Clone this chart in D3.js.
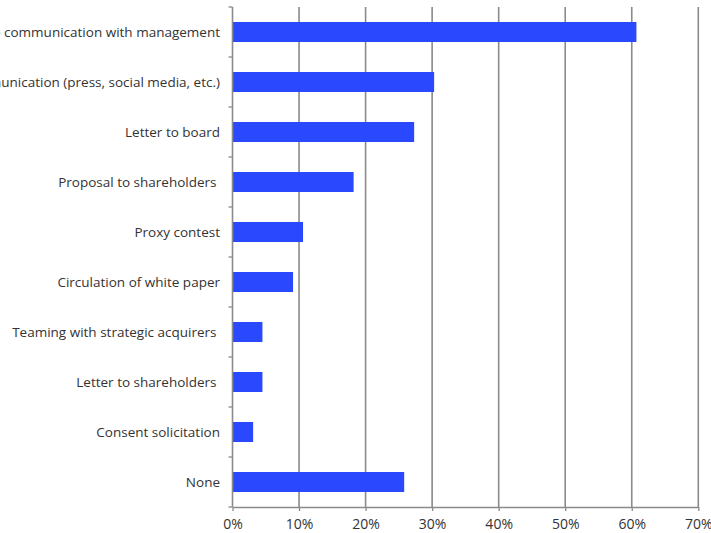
<!DOCTYPE html>
<html><head><meta charset="utf-8">
<script src="https://cdn.jsdelivr.net/npm/d3@7"></script>
<style>body{margin:0;background:#fff}svg{display:block}</style>
</head><body>
<svg id="c" width="711" height="533"></svg>
<script>
const categories = ["Private communication with management","Public communication (press, social media, etc.)","Letter to board","Proposal to shareholders ","Proxy contest","Circulation of white paper","Teaming with strategic acquirers ","Letter to shareholders ","Consent solicitation","None"];
const values = [60.7, 30.3, 27.3, 18.2, 10.6, 9.1, 4.5, 4.5, 3.1, 25.8];
const tickValues = [0,10,20,30,40,50,60,70];

(function(){
const svg = d3.select("#c");
const L = 232.5, R = 698.3, T = 7, B = 507;
const x = d3.scaleLinear().domain([0,70]).range([L,R]);
const y = d3.scaleBand().domain(categories).range([T,B]).paddingInner(0.6).paddingOuter(0.3);

// gridlines
svg.append("g").selectAll("line").data(tickValues.slice(1)).join("line")
  .attr("x1",d=>x(d)).attr("x2",d=>x(d)).attr("y1",T).attr("y2",B)
  .attr("stroke","#8a8a8a").attr("stroke-width",1.6);

// bars
svg.append("g").selectAll("rect").data(values).join("rect")
  .attr("x",x(0)).attr("y",(d,i)=>y(categories[i]))
  .attr("width",d=>x(d)-x(0)).attr("height",y.bandwidth())
  .attr("fill","#2a49ff");

// y axis
const yEdges = d3.range(categories.length+1).map(i=>T+i*(B-T)/categories.length);
svg.append("line").attr("x1",L).attr("x2",L).attr("y1",T).attr("y2",B).attr("stroke","#8a8a8a").attr("stroke-width",1.6);
svg.append("g").selectAll("line").data(yEdges).join("line")
  .attr("x1",L-4).attr("x2",L).attr("y1",d=>d).attr("y2",d=>d).attr("stroke","#8a8a8a").attr("stroke-width",1.3);
svg.append("g").selectAll("text").data(categories).join("text")
  .attr("x",220).attr("y",d=>y(d)+y.bandwidth()/2).attr("dy","0.35em")
  .attr("text-anchor","end").attr("font-family","Open Sans, sans-serif").attr("font-size",13.5)
  .attr("fill","#333").style("white-space","pre").text(d=>d);

// x axis
const xa = d3.axisBottom(x).tickValues(tickValues).tickFormat(d=>d+"%").tickSize(4).tickSizeOuter(0);
const gx = svg.append("g").attr("transform",`translate(0,${B})`).call(xa);
gx.select(".domain").attr("stroke","#8a8a8a").attr("stroke-width",1.6);
gx.selectAll(".tick line").attr("stroke","#8a8a8a").attr("stroke-width",1.3);
gx.selectAll("text").attr("font-family","Open Sans, sans-serif").attr("font-size",14).attr("fill","#333").attr("dy","1.05em");
})();
</script>
</body></html>
